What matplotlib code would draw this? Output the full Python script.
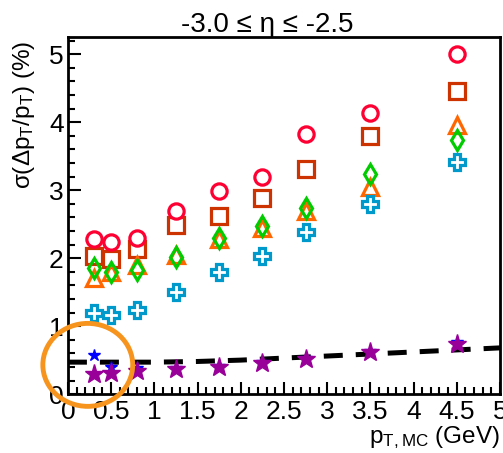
import matplotlib
matplotlib.use('Agg')
import matplotlib.pyplot as plt
from matplotlib.patches import Ellipse
from matplotlib.ticker import MultipleLocator, FormatStrFormatter

plt.rcParams['font.family'] = ['Liberation Sans', 'DejaVu Sans']
plt.rcParams['mathtext.default'] = 'regular'

pt = [0.3, 0.5, 0.8, 1.25, 1.75, 2.25, 2.75, 3.5, 4.5]

res_circle = [2.28, 2.23, 2.30, 2.70, 2.98, 3.20, 3.82, 4.13, 5.00]
err_circle = [0.08, 0.03, 0.03, 0.03, 0.03, 0.03, 0.10, 0.04, 0.07]
res_square = [2.03, 1.99, 2.13, 2.48, 2.62, 2.88, 3.31, 3.79, 4.46]
res_triangle = [1.71, 1.79, 1.90, 2.04, 2.28, 2.45, 2.70, 3.05, 3.96]
res_diamond = [1.86, 1.79, 1.82, 2.01, 2.30, 2.47, 2.73, 3.24, 3.74]
res_cross = [1.19, 1.17, 1.24, 1.50, 1.79, 2.03, 2.38, 2.80, 3.41]
res_star = [0.29, 0.31, 0.34, 0.37, 0.40, 0.46, 0.51, 0.62, 0.74]
res_star_blue = [0.58, 0.40, 0.39, 0.38, 0.41, 0.47, 0.53, 0.64, 0.76]

line_x = [0.0, 0.5, 1.0, 1.5, 2.0, 2.5, 3.0, 3.5, 4.0, 4.5, 5.0]
line_y = [0.47, 0.47, 0.47, 0.48, 0.50, 0.53, 0.56, 0.59, 0.62, 0.65, 0.68]

fs = 19

fig = plt.figure(figsize=(5.03, 4.53), dpi=100)
ax = fig.add_axes([0.135, 0.130, 0.859, 0.788])

ax.plot(line_x, line_y, color='black', lw=3.6, ls=(0, (3.8, 2.6)), zorder=2)

ax.errorbar(pt, res_circle, yerr=err_circle, fmt='o', ms=11, mfc='white', mec='#ff0033',
            mew=2.3, ecolor='#ff0033', elinewidth=2.3, capsize=0, zorder=3)
ax.plot(pt, res_square, 's', ms=11, mfc='none', mec='#cc3300', mew=2.3, zorder=3)
ax.plot(pt, res_triangle, '^', ms=12, mfc='none', mec='#ff6600', mew=2.3, zorder=3)
ax.plot(pt, res_diamond, 'd', ms=10, mfc='none', mec='#00cc00', mew=2.3, zorder=4)
ax.plot(pt, res_cross, 'P', ms=12, mfc='white', mec='#0099cc', mew=2.3, zorder=3)
ax.plot(pt, res_star_blue, '*', ms=9, color='#0000ff', zorder=3)
ax.plot(pt, res_star, '*', ms=14, color='#990099', mec='#990099', zorder=4)

ax.add_patch(Ellipse((0.23, 0.43), 1.04, 1.22, fill=False, ec='#f7941d', lw=3.5,
                     clip_on=False, zorder=5))

ax.set_xlim(0, 5)
ax.set_ylim(0, 5.25)

ax.xaxis.set_major_locator(MultipleLocator(0.5))
ax.xaxis.set_minor_locator(MultipleLocator(0.1))
ax.yaxis.set_major_locator(MultipleLocator(1))
ax.yaxis.set_minor_locator(MultipleLocator(0.2))
ax.xaxis.set_major_formatter(FormatStrFormatter('%g'))
ax.yaxis.set_major_formatter(FormatStrFormatter('%g'))

ax.tick_params(which='both', direction='in', top=False, right=False, width=1.5,
               labelsize=fs)
ax.tick_params(which='major', length=9)
ax.tick_params(which='minor', length=5)
ax.tick_params(axis='x', pad=4)
ax.tick_params(axis='y', pad=3)

for s in ax.spines.values():
    s.set_linewidth(2)

ax.set_ylabel(r'σ(Δp$_T$/p$_T$) (%)', fontsize=17.5, loc='top')
ax.yaxis.set_label_coords(-0.072, 0.99)
ax.set_xlabel(r'p$_{T,MC}$ (GeV)', fontsize=17.5, loc='right')
ax.xaxis.set_label_coords(1.0, -0.083)

fig.text(0.531, 0.929, '-3.0 ≤ η ≤ -2.5', fontsize=20, ha='center', va='baseline')

fig.savefig('out.png', dpi=100)
